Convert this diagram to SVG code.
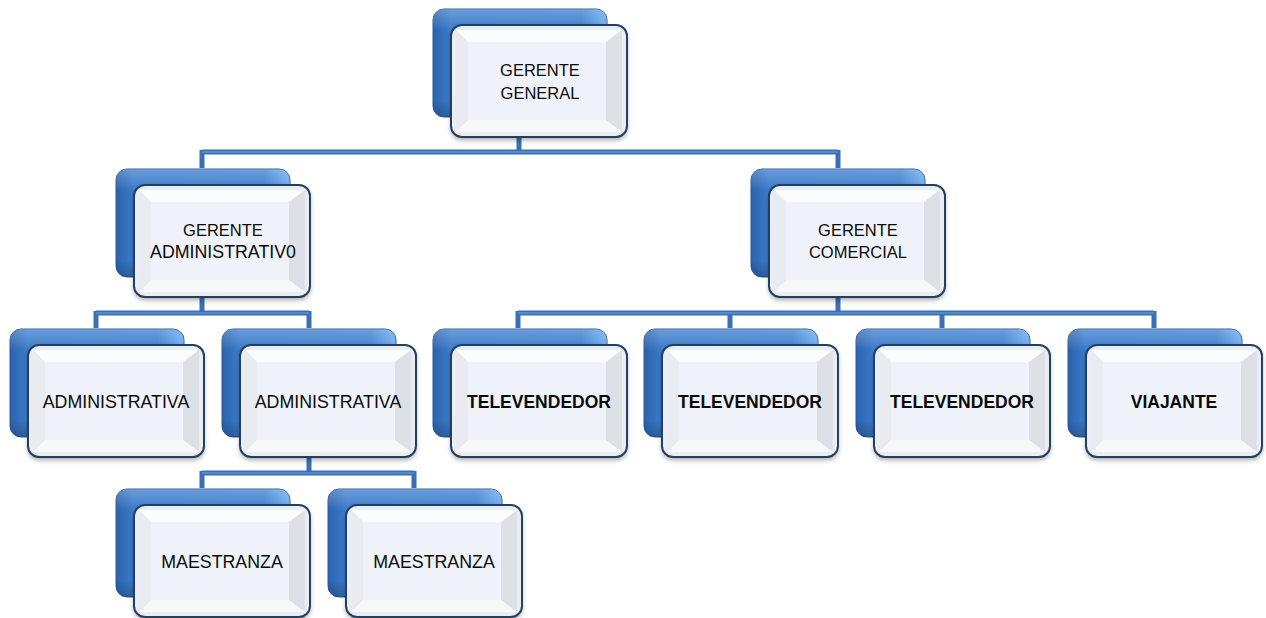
<svg xmlns="http://www.w3.org/2000/svg" xmlns:xlink="http://www.w3.org/1999/xlink" width="1266" height="618" viewBox="0 0 1266 618">
<style>
.lbl{font-family:"Liberation Sans",Arial,sans-serif;font-size:17.8px;fill:#0a0a0a;text-anchor:middle}
.two{font-size:16.5px}
.b{font-weight:bold;font-size:17.5px}
.con{fill:none;stroke:#3b70b4;stroke-width:5}
.conhl{fill:none;stroke:#5d91d2;stroke-width:1.4}
</style>
<defs>
<linearGradient id="backH" x1="0" y1="0" x2="1" y2="0">
<stop offset="0" stop-color="#2c62ab"/>
<stop offset="0.1" stop-color="#3a7bcb"/>
<stop offset="0.85" stop-color="#3b7dcd"/>
<stop offset="1" stop-color="#6aaaf0"/>
</linearGradient>
<linearGradient id="backV" x1="0" y1="0" x2="0" y2="1">
<stop offset="0" stop-color="#ffffff" stop-opacity="0.25"/>
<stop offset="0.2" stop-color="#ffffff" stop-opacity="0"/>
<stop offset="0.85" stop-color="#000" stop-opacity="0"/>
<stop offset="1" stop-color="#000" stop-opacity="0.2"/>
</linearGradient>
<filter id="sh" x="-10%" y="-10%" width="125%" height="130%">
<feDropShadow dx="0" dy="3" stdDeviation="2.5" flood-color="#000" flood-opacity="0.35"/>
</filter>
<g id="box">
<rect x="1" y="1" width="174" height="108" rx="11" fill="url(#backH)" stroke="#2a5a9a" stroke-width="1"/>
<rect x="1" y="1" width="174" height="108" rx="11" fill="url(#backV)"/>
<g filter="url(#sh)">
<rect x="19" y="17" width="176" height="112" rx="11" fill="#e9edf2"/>
</g>
<polygon points="24,22 190,22 174,34 36,34" fill="#fbfcfd"/>
<polygon points="24,22 36,34 36,112 24,124" fill="#e8ebef"/>
<polygon points="190,22 190,124 174,112 174,34" fill="#dde1e6"/>
<polygon points="24,124 36,112 174,112 190,124" fill="#f6f8fa"/>
<rect x="36" y="34" width="138" height="78" fill="#eff3f9"/>
<rect x="19" y="17" width="176" height="112" rx="11" fill="none" stroke="#233f63" stroke-width="2"/>
</g>
</defs>
<rect width="1266" height="618" fill="#ffffff"/>
<g id="connectors">
<path class="con" d="M519 135V152M202 152H838M202 150V168M838 150V168M202 295V313M96 313H309M96 311V328M309 311V328M838 295V313M518 313H1154M518 311V328M730 311V328M942 311V328M1154 311V328M309 455V473M202 473H414M202 471V488M414 471V488"/>
<path class="conhl" d="M202 152H838M96 313H309M518 313H1154M202 473H414"/>
</g>
<g id="gerente-general" transform="translate(432,8)"><use href="#box"/><text class="lbl two" x="108" y="68">GERENTE</text><text class="lbl two" x="108" y="91">GENERAL</text></g>
<g id="gerente-administrativo" transform="translate(115,168)"><use href="#box"/><text class="lbl two" x="108" y="68">GERENTE</text><text class="lbl" x="108" y="90">ADMINISTRATIV0</text></g>
<g id="gerente-comercial" transform="translate(750,168)"><use href="#box"/><text class="lbl two" x="108" y="68">GERENTE</text><text class="lbl two" x="108" y="90">COMERCIAL</text></g>
<g id="administrativa-1" transform="translate(9,328)"><use href="#box"/><text class="lbl" x="107" y="80">ADMINISTRATIVA</text></g>
<g id="administrativa-2" transform="translate(221,328)"><use href="#box"/><text class="lbl" x="107" y="80">ADMINISTRATIVA</text></g>
<g id="televendedor-1" transform="translate(432,328)"><use href="#box"/><text class="lbl b" x="107" y="80">TELEVENDEDOR</text></g>
<g id="televendedor-2" transform="translate(643,328)"><use href="#box"/><text class="lbl b" x="107" y="80">TELEVENDEDOR</text></g>
<g id="televendedor-3" transform="translate(855,328)"><use href="#box"/><text class="lbl b" x="107" y="80">TELEVENDEDOR</text></g>
<g id="viajante" transform="translate(1067,328)"><use href="#box"/><text class="lbl b" x="107" y="80">VIAJANTE</text></g>
<g id="maestranza-1" transform="translate(115,488)"><use href="#box"/><text class="lbl" x="107" y="80">MAESTRANZA</text></g>
<g id="maestranza-2" transform="translate(327,488)"><use href="#box"/><text class="lbl" x="107" y="80">MAESTRANZA</text></g>
</svg>
